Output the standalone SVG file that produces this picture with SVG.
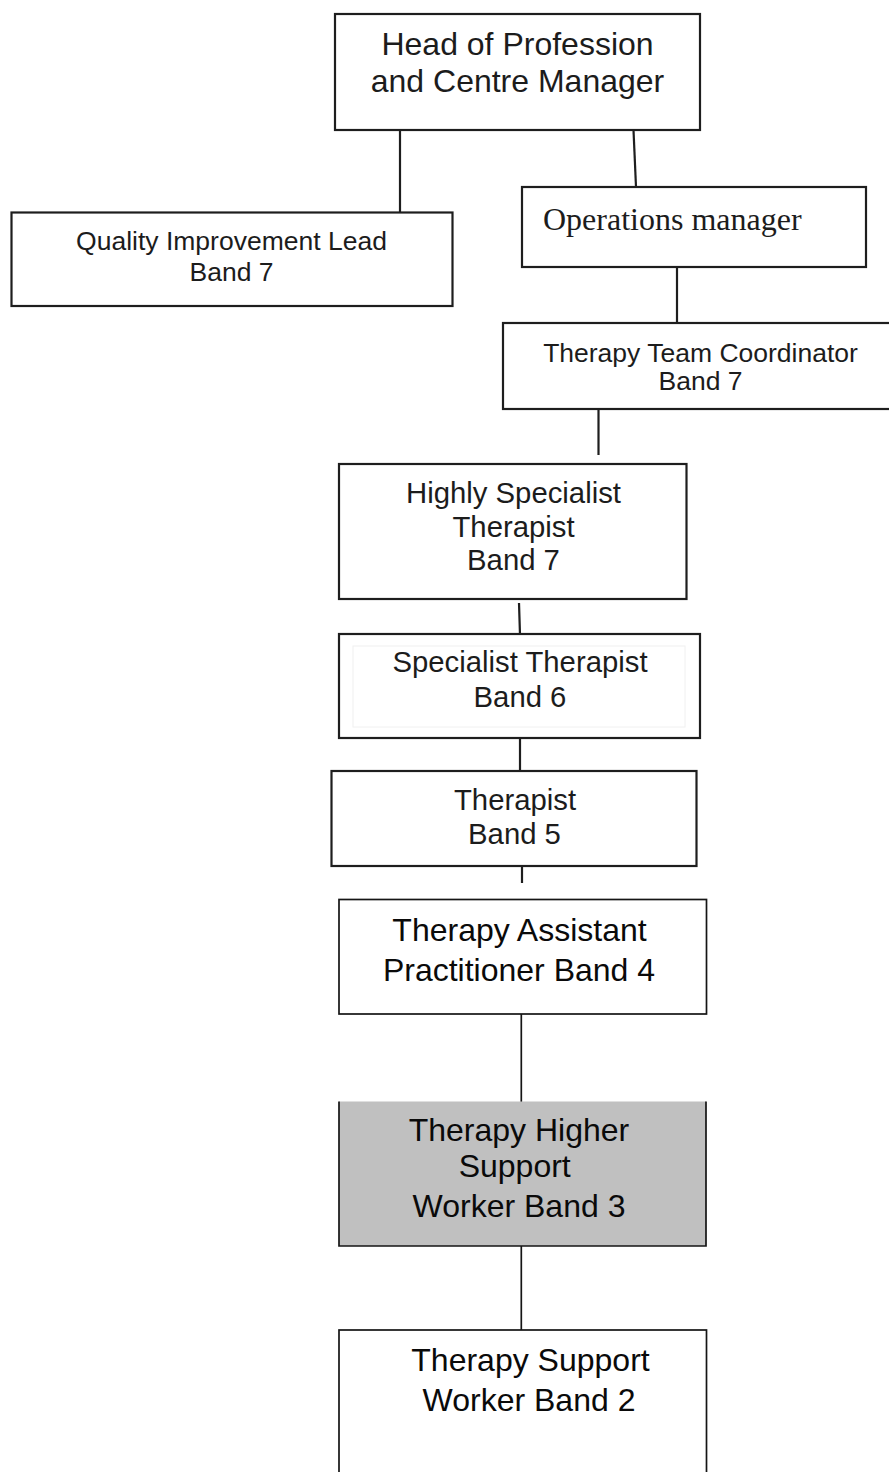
<svg xmlns="http://www.w3.org/2000/svg" width="889" height="1472" viewBox="0 0 889 1472">
<style>
  .box { fill: #ffffff; stroke: #1e1e1e; stroke-width: 2.2; }
  .boxl { fill: #ffffff; stroke: #151515; stroke-width: 1.7; }
  .grey { fill: #c0c0c0; stroke: none; }
  .side { fill: none; stroke: #151515; stroke-width: 1.7; }
  .faint { fill: none; stroke: #f0f0f0; stroke-width: 1; }
  .conn { fill: none; stroke: #1e1e1e; stroke-width: 2.2; }
  .connl { fill: none; stroke: #151515; stroke-width: 1.7; }
  text { font-family: "Liberation Sans", Arial, sans-serif; fill: #1c1c1c; text-anchor: middle; }
  .serif { font-family: "Liberation Serif", "Times New Roman", serif; text-anchor: start; }
  .dark { fill: #0a0a0a; }
</style>
<rect width="889" height="1472" fill="#ffffff"/>

<g id="connectors">
  <line class="conn" x1="400" y1="130" x2="400" y2="214"/>
  <line class="conn" x1="633.5" y1="130" x2="636" y2="187"/>
  <line class="conn" x1="677" y1="267" x2="677" y2="323"/>
  <line class="conn" x1="598.5" y1="409" x2="598.5" y2="455"/>
  <line class="conn" x1="519" y1="603" x2="520" y2="635"/>
  <line class="conn" x1="520" y1="738" x2="520" y2="771"/>
  <line class="conn" x1="522" y1="865" x2="522" y2="883"/>
  <line class="connl" x1="521.3" y1="1014" x2="521.3" y2="1102"/>
  <line class="connl" x1="521.3" y1="1246" x2="521.3" y2="1330"/>
</g>

<g id="head">
  <rect class="box" x="335" y="14" width="365" height="116"/>
  <text x="517.5" y="55" font-size="32">Head of Profession</text>
  <text x="517.5" y="92" font-size="32">and Centre Manager</text>
</g>

<g id="qil">
  <rect class="box" x="11.5" y="212.5" width="441" height="93.5"/>
  <text x="231.5" y="249.5" font-size="26.5">Quality Improvement Lead</text>
  <text x="231.5" y="280.5" font-size="26.5">Band 7</text>
</g>

<g id="ops">
  <rect class="box" x="522" y="187" width="344" height="80"/>
  <text class="serif" x="543" y="230" font-size="32">Operations manager</text>
</g>

<g id="ttc">
  <rect class="box" x="503" y="323" width="400" height="86"/>
  <text x="700.5" y="361.5" font-size="26.5">Therapy Team Coordinator</text>
  <text x="700.5" y="390" font-size="26.5">Band 7</text>
</g>

<g id="hst">
  <rect class="box" x="339" y="464" width="347.5" height="135"/>
  <text x="513.5" y="503" font-size="29.3">Highly Specialist</text>
  <text x="513.5" y="537" font-size="29.3">Therapist</text>
  <text x="513.5" y="570" font-size="29.3">Band 7</text>
</g>

<g id="st">
  <rect class="box" x="339" y="634" width="361" height="104"/>
  <rect class="faint" x="353" y="646" width="332" height="81"/>
  <text x="520" y="672" font-size="29.3">Specialist Therapist</text>
  <text x="520" y="707" font-size="29.3">Band 6</text>
</g>

<g id="therapist">
  <rect class="box" x="331.5" y="771" width="365" height="95"/>
  <text x="515" y="810" font-size="29.3">Therapist</text>
  <text x="514.5" y="844" font-size="29.3">Band 5</text>
</g>

<g id="tap">
  <rect class="boxl" x="339" y="899.5" width="367.5" height="114.5"/>
  <text class="dark" x="519.5" y="941" font-size="32">Therapy Assistant</text>
  <text class="dark" x="519" y="980.5" font-size="32">Practitioner Band 4</text>
</g>

<g id="thsw">
  <rect class="grey" x="339" y="1101.5" width="367" height="144.5"/>
  <path class="side" d="M339,1101.5 V1246 H706 V1101.5"/>
  <text class="dark" x="519" y="1141" font-size="32">Therapy Higher</text>
  <text class="dark" x="514.7" y="1177" font-size="32">Support</text>
  <text class="dark" x="519" y="1217" font-size="32">Worker Band 3</text>
</g>

<g id="tsw">
  <rect class="boxl" x="339" y="1330" width="367.5" height="160"/>
  <text class="dark" x="530.5" y="1371" font-size="32">Therapy Support</text>
  <text class="dark" x="529" y="1411" font-size="32">Worker Band 2</text>
</g>
</svg>
